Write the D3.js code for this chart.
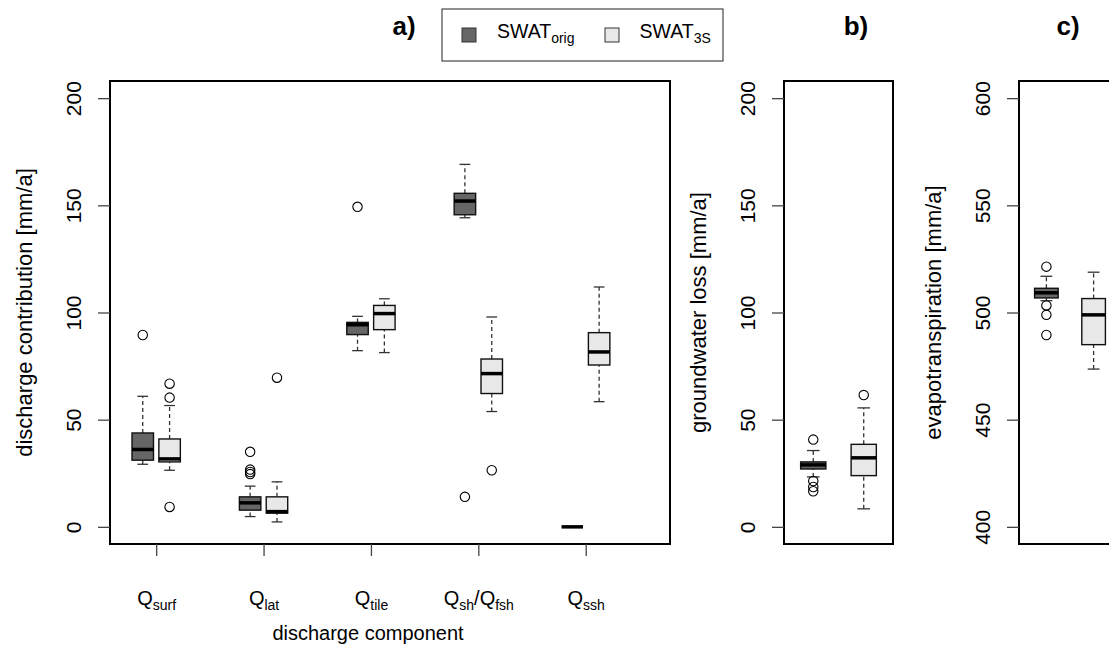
<!DOCTYPE html>
<html>
<head>
<script src="https://cdnjs.cloudflare.com/ajax/libs/d3/7.8.5/d3.min.js"></script>
<style>
  body { margin: 0; background: #fff; }
  svg { display: block; font-family: "Liberation Sans", Arial, Helvetica, sans-serif; }
  .tick line { stroke: #444; stroke-width: 1.3; }
</style>
</head>
<body>
<div id="chart"></div>
<script>
// ---- data (whisker low, Q1, median, Q3, whisker high) ----
const components = [
  [["Q"], ["surf", true]],
  [["Q"], ["lat", true]],
  [["Q"], ["tile", true]],
  [["Q"], ["sh", true], ["/"], ["Q"], ["fsh", true]],
  [["Q"], ["ssh", true]]
];
const dischargeOrig = [
  [29.2, 31.1, 36.1, 43.8, 60.9],
  [4.8, 7.8, 11.2, 14.0, 19.0],
  [82.2, 89.7, 94.3, 95.4, 98.2],
  [144.2, 145.6, 152.0, 155.6, 169.1],
  [0, 0, 0, 0, 0]
];
const discharge3S = [
  [26.4, 30.3, 31.7, 41.0, 56.6],
  [2.3, 6.4, 7.1, 14.0, 21.0],
  [81.3, 92.0, 99.5, 103.3, 106.4],
  [53.8, 62.2, 71.5, 78.3, 97.9],
  [58.4, 75.5, 81.6, 90.6, 111.9]
];
const dischargeOrigOut = [[89.5], [35.0, 26.7, 25.6, 24.6], [149.3], [14.0], []];
const discharge3SOut = [[66.8, 60.3, 9.3], [69.6], [], [26.4], []];

const gwOrig = [23.3, 27.0, 28.9, 30.3, 35.6];
const gwOrigOut = [40.7, 21.4, 18.6, 16.6];
const gw3S = [8.4, 23.9, 32.2, 38.5, 55.5];
const gw3SOut = [61.5];

const etOrig = [505.5, 506.8, 509.2, 511.3, 516.9];
const etOrigOut = [521.4, 503.3, 498.9, 489.5];
const et3S = [473.6, 485.0, 498.9, 506.5, 518.8];
const et3SOut = [];

const ticksA = [0, 50, 100, 150, 200];
const ticksC = [400, 450, 500, 550, 600];

const darkFill = "#666666";
const lightFill = "#e8e8e8";

// ---- layout ----
const W = 1109, H = 649;
const plotTop = 81, plotBottom = 544;

const svg = d3.select("#chart").append("svg")
  .attr("width", W).attr("height", H);
svg.append("rect").attr("width", W).attr("height", H).attr("fill", "#fff");

function drawBox(g, x, y, pos, s, out, fill, wex) {
  const half = (x(pos + wex / 2) - x(pos - wex / 2)) / 2;
  const cx = x(pos);
  const capHalf = half / 2;
  // whiskers
  [[s[0], s[1]], [s[3], s[4]]].forEach(([a, b]) => {
    if (a === b) return;
    g.append("line").attr("x1", cx).attr("x2", cx)
      .attr("y1", y(a)).attr("y2", y(b))
      .attr("stroke", "#333").attr("stroke-width", 1.3)
      .attr("stroke-dasharray", "4,3");
  });
  // staples
  [s[0], s[4]].forEach(v => {
    if (s[0] === s[4]) return;
    g.append("line").attr("x1", cx - capHalf).attr("x2", cx + capHalf)
      .attr("y1", y(v)).attr("y2", y(v))
      .attr("stroke", "#333").attr("stroke-width", 1.3);
  });
  // box
  if (s[3] > s[1]) {
    g.append("rect").attr("x", cx - half).attr("width", half * 2)
      .attr("y", y(s[3])).attr("height", y(s[1]) - y(s[3]))
      .attr("fill", fill).attr("stroke", "#111").attr("stroke-width", 1.4);
  }
  // median
  g.append("line").attr("x1", cx - half).attr("x2", cx + half)
    .attr("y1", y(s[2])).attr("y2", y(s[2]))
    .attr("stroke", "#000").attr("stroke-width", 3.5);
  // outliers
  out.forEach(v => {
    g.append("circle").attr("cx", cx).attr("cy", y(v)).attr("r", 4.7)
      .attr("fill", "none").attr("stroke", "#000").attr("stroke-width", 1.1);
  });
}

function yAxis(g, y, ticks, left, title) {
  const ax = g.append("g").attr("transform", `translate(${left},0)`)
    .call(d3.axisLeft(y).tickValues(ticks).tickSize(12).tickFormat(""));
  ax.select(".domain").remove();
  ax.selectAll(".tick").append("text")
    .attr("transform", "rotate(-90)")
    .attr("x", 0).attr("y", -29)
    .attr("text-anchor", "middle")
    .attr("fill", "#000")
    .attr("font-size", 21)
    .text(d => d);
  g.append("text")
    .attr("transform", `translate(${left - 78},${(plotTop + plotBottom) / 2}) rotate(-90)`)
    .attr("text-anchor", "middle")
    .attr("font-size", 22)
    .text(title);
}

function frame(g, x0, x1) {
  g.append("rect").attr("x", x0).attr("y", plotTop)
    .attr("width", x1 - x0).attr("height", plotBottom - plotTop)
    .attr("fill", "none").attr("stroke", "#000").attr("stroke-width", 2);
}

// ---- panel a ----
const ga = svg.append("g");
const xa = d3.scaleLinear().domain([-0.22, 20.64]).range([110, 670]);
const ya = d3.scaleLinear().domain([-8, 208]).range([plotBottom, plotTop]);
components.forEach((c, i) => {
  drawBox(ga, xa, ya, 1 + 4 * i, dischargeOrig[i], dischargeOrigOut[i], darkFill, 0.8);
  drawBox(ga, xa, ya, 2 + 4 * i, discharge3S[i], discharge3SOut[i], lightFill, 0.8);
});
frame(ga, 110, 670);
yAxis(ga, ya, ticksA, 110, "discharge contribution [mm/a]");

const xAxis = ga.append("g").attr("transform", `translate(0,${plotBottom})`)
  .call(d3.axisBottom(xa).tickValues(components.map((c, i) => 1.5 + 4 * i))
    .tickSize(12).tickFormat(""));
xAxis.select(".domain").remove();
xAxis.selectAll(".tick").each(function(d, i) {
  const t = d3.select(this).append("text")
    .attr("y", 61).attr("text-anchor", "middle")
    .attr("fill", "#000").attr("font-size", 20);
  let shifted = false;
  components[i].forEach(([txt, sub]) => {
    const ts = t.append("tspan").text(txt);
    if (sub && !shifted) { ts.attr("dy", 5).attr("font-size", 14); shifted = true; }
    else if (sub) { ts.attr("font-size", 14); }
    else if (shifted) { ts.attr("dy", -5); shifted = false; }
  });
});
ga.append("text").attr("x", 368).attr("y", 640)
  .attr("text-anchor", "middle").attr("font-size", 20)
  .text("discharge component");

// ---- panel b ----
const gb = svg.append("g");
const xb = d3.scaleLinear().domain([0.42, 2.58]).range([784, 893]);
drawBox(gb, xb, ya, 1, gwOrig, gwOrigOut, darkFill, 0.5);
drawBox(gb, xb, ya, 2, gw3S, gw3SOut, lightFill, 0.5);
frame(gb, 784, 893);
yAxis(gb, ya, ticksA, 784, "groundwater loss [mm/a]");

// ---- panel c ----
const gc = svg.append("g");
const xc = d3.scaleLinear().domain([0.42, 2.58]).range([1019, 1121]);
const yc = d3.scaleLinear().domain([392, 608]).range([plotBottom, plotTop]);
drawBox(gc, xc, yc, 1, etOrig, etOrigOut, darkFill, 0.5);
drawBox(gc, xc, yc, 2, et3S, et3SOut, lightFill, 0.5);
frame(gc, 1019, 1121);
yAxis(gc, yc, ticksC, 1019, "evapotranspiration [mm/a]");

// ---- panel titles ----
[["a)", 404], ["b)", 856], ["c)", 1068]].forEach(([t, x]) => {
  svg.append("text").attr("x", x).attr("y", 35)
    .attr("text-anchor", "middle").attr("font-weight", "bold")
    .attr("font-size", 26).text(t);
});

// ---- legend ----
const lg = svg.append("g");
lg.append("rect").attr("x", 442).attr("y", 9).attr("width", 281).attr("height", 52)
  .attr("fill", "#fff").attr("stroke", "#222").attr("stroke-width", 1);
[[darkFill, 462, 497, "orig"], [lightFill, 605, 639.5, "3S"]].forEach(([f, sx, tx, sub]) => {
  lg.append("rect").attr("x", sx).attr("y", 28).attr("width", 14).attr("height", 14)
    .attr("fill", f).attr("stroke", "#333").attr("stroke-width", 1);
  const t = lg.append("text").attr("x", tx).attr("y", 37.5).attr("font-size", 19.5);
  t.append("tspan").text("SWAT");
  t.append("tspan").attr("dy", 5).attr("font-size", 14).text(sub);
});
</script>
</body>
</html>
